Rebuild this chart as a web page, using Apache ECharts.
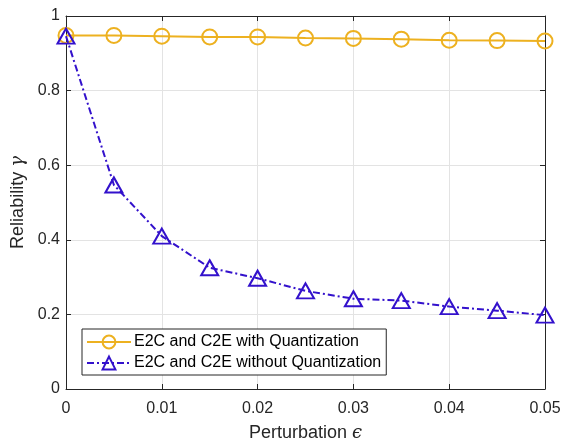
<!DOCTYPE html>
<html>
<head>
<meta charset="utf-8">
<script src="https://cdn.jsdelivr.net/npm/echarts@6/dist/echarts.min.js"></script>
<style>
html,body{margin:0;padding:0;background:#fff;}
#chart{width:570px;height:443px;}
</style>
</head>
<body>
<div id="chart"></div>
<script>
var epsilon = [0, 0.005, 0.01, 0.015, 0.02, 0.025, 0.03, 0.035, 0.04, 0.045, 0.05];
var withQuant = [0.948, 0.948, 0.946, 0.944, 0.944, 0.941, 0.940, 0.938, 0.935, 0.934, 0.933];
var withoutQuant = [0.946, 0.547, 0.410, 0.325, 0.297, 0.263, 0.242, 0.237, 0.221, 0.210, 0.198];
var seriesNames = ['E2C and C2E with Quantization', 'E2C and C2E without Quantization'];
var xTicks = ['0', '0.01', '0.02', '0.03', '0.04', '0.05'];
var yTicks = ['0', '0.2', '0.4', '0.6', '0.8', '1'];

var font = 'Liberation Sans, Arial, Helvetica, sans-serif';
var dark = '#262626';
var orange = '#EDB120';
var blue = '#3311CC';

function pair(xs, ys) { return xs.map(function (x, i) { return [x, ys[i]]; }); }

var chart = echarts.init(document.getElementById('chart'), null, {renderer: 'canvas'});
chart.setOption({
  animation: false,
  backgroundColor: '#fff',
  textStyle: {fontFamily: font},
  grid: {left: 66, right: 25, top: 16, bottom: 54, containLabel: false, outerBoundsMode: 'none'},
  xAxis: [{
    type: 'value', min: 0, max: 0.05, interval: 0.01,
    name: 'Perturbation {i|ϵ}', nameLocation: 'middle', nameGap: 35, nameMoveOverlap: false,
    nameTextStyle: {fontSize: 18, color: dark, fontFamily: font,
      rich: {i: {fontSize: 18, fontStyle: 'italic', fontFamily: 'DejaVu Serif, serif', color: dark}}},
    axisLine: {show: true, onZero: false, lineStyle: {color: dark, width: 1}},
    axisTick: {show: true, inside: true, length: 5, lineStyle: {color: dark}},
    axisLabel: {fontSize: 16, color: dark, margin: 12, fontFamily: font,
      formatter: function (v) { return xTicks[Math.round(v / 0.01)]; }},
    splitLine: {show: true, lineStyle: {color: '#e3e3e3', width: 1}}
  }, {
    type: 'value', min: 0, max: 0.05, interval: 0.01, position: 'top',
    axisLine: {show: true, onZero: false, lineStyle: {color: dark, width: 1}},
    axisTick: {show: true, inside: true, length: 5, lineStyle: {color: dark}},
    axisLabel: {show: false}, splitLine: {show: false}
  }],
  yAxis: [{
    type: 'value', min: 0, max: 1, interval: 0.2,
    name: 'Reliability {i|γ}', nameLocation: 'middle', nameGap: 39, nameMoveOverlap: false,
    nameTextStyle: {fontSize: 18, color: dark, fontFamily: font,
      rich: {i: {fontSize: 18, fontStyle: 'italic', fontFamily: 'DejaVu Serif, serif', color: dark}}},
    axisLine: {show: true, onZero: false, lineStyle: {color: dark, width: 1}},
    axisTick: {show: true, inside: true, length: 5, lineStyle: {color: dark}},
    axisLabel: {fontSize: 16, color: dark, margin: 6, fontFamily: font,
      formatter: function (v) { return yTicks[Math.round(v / 0.2)]; }},
    splitLine: {show: true, lineStyle: {color: '#e3e3e3', width: 1}}
  }, {
    type: 'value', min: 0, max: 1, interval: 0.2, position: 'right',
    axisLine: {show: true, onZero: false, lineStyle: {color: dark, width: 1}},
    axisTick: {show: true, inside: true, length: 5, lineStyle: {color: dark}},
    axisLabel: {show: false}, splitLine: {show: false}
  }],
  legend: {
    left: 82, top: 329, orient: 'vertical',
    backgroundColor: '#fff', borderColor: dark, borderWidth: 1, borderRadius: 0,
    padding: [5, 5, 4, 4], itemGap: 5, itemWidth: 44, itemHeight: 16,
    textStyle: {fontSize: 16, color: '#000', fontFamily: font, padding: [0, 0, 0, -2]},
    data: seriesNames
  },
  series: [{
    name: seriesNames[0], type: 'line', data: pair(epsilon, withQuant),
    symbol: 'circle', symbolSize: 15, showAllSymbol: true,
    lineStyle: {color: orange, width: 2},
    itemStyle: {color: 'rgba(255,255,255,0)', borderColor: orange, borderWidth: 2},
    z: 3
  }, {
    name: seriesNames[1], type: 'line', data: pair(epsilon, withoutQuant),
    symbol: 'triangle', symbolSize: [17, 15], showAllSymbol: true,
    lineStyle: {color: blue, width: 2, type: [7, 3, 2, 3]},
    itemStyle: {color: 'rgba(255,255,255,0)', borderColor: blue, borderWidth: 2},
    z: 4
  }]
});
</script>
</body>
</html>
